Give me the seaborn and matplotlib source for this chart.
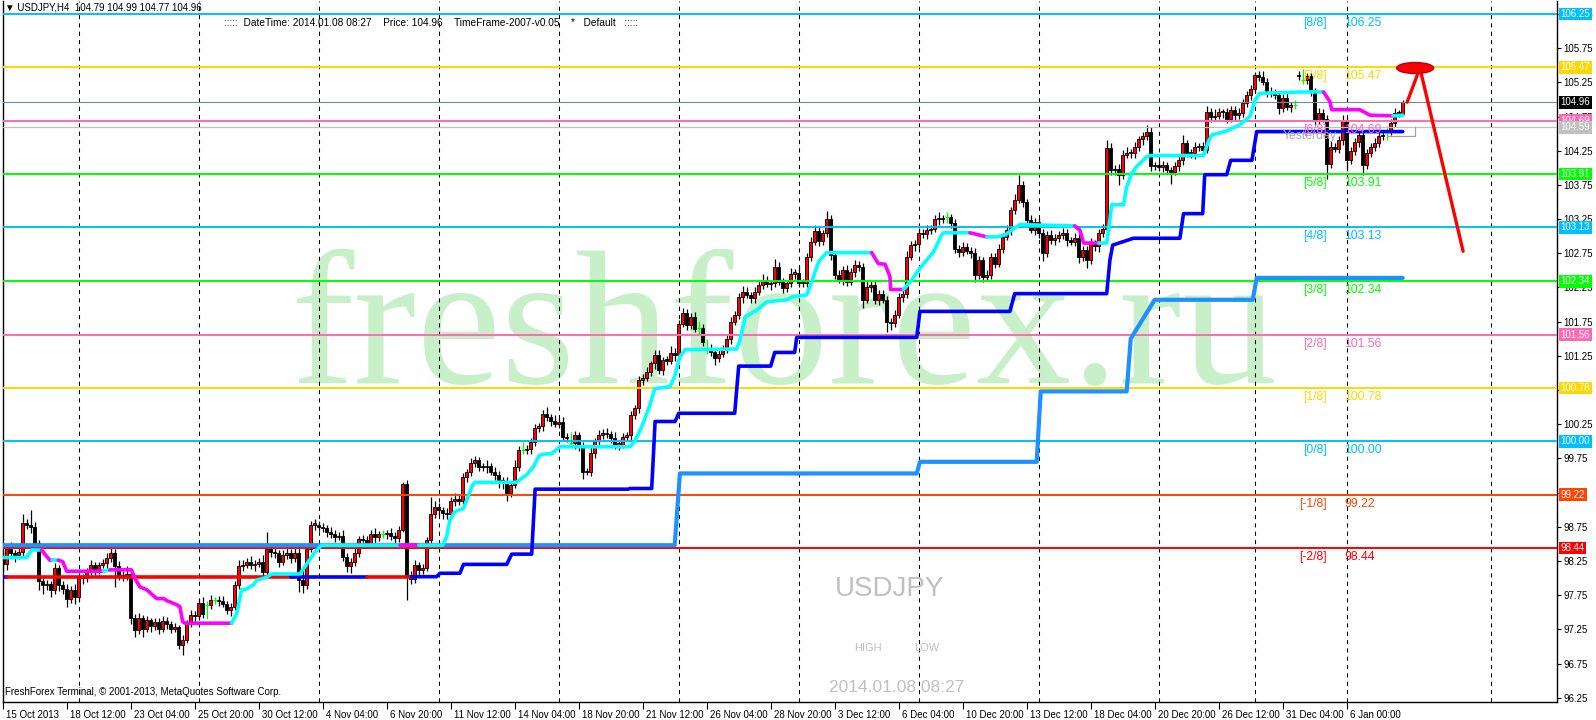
import matplotlib
matplotlib.use('Agg')
import matplotlib.pyplot as plt
import matplotlib.transforms as mtransforms
from matplotlib.patches import Ellipse
import numpy as np
import seaborn as sns

# USDJPY H4 candles, bar 0 = 15 Oct 2013 20:00 ... bar 350 = 8 Jan 2014 08:00
closes = [
    98.20, 98.43, 98.36, 98.33, 98.38, 98.80, 98.78, 98.74, 98.51, 97.95,
    97.90, 97.92, 97.83, 98.14, 97.90, 97.84, 97.70, 97.83, 97.72, 98.00,
    98.00, 98.09, 98.19, 98.12, 98.19, 98.22, 98.29, 98.36, 98.17, 98.05,
    98.02, 98.06, 97.41, 97.24, 97.41, 97.26, 97.38, 97.30, 97.36, 97.26,
    97.37, 97.33, 97.26, 97.29, 97.02, 97.10, 97.34, 97.46, 97.44, 97.63,
    97.48, 97.60, 97.68, 97.68, 97.66, 97.62, 97.53, 97.58, 97.90, 98.17,
    98.19, 98.24, 98.19, 98.21, 98.24, 98.09, 98.43, 98.38, 98.36, 98.24,
    98.34, 98.36, 98.29, 98.36, 97.97, 97.90, 98.43, 98.78, 98.78, 98.75,
    98.73, 98.68, 98.65, 98.60, 98.62, 98.31, 98.17, 98.24, 98.36, 98.57,
    98.55, 98.50, 98.65, 98.60, 98.65, 98.64, 98.66, 98.62, 98.58, 98.71,
    99.38, 98.04, 97.98, 98.19, 98.12, 98.15, 98.56, 98.94, 99.04, 98.99,
    98.95, 98.93, 99.12, 99.16, 99.13, 99.48, 99.55, 99.68, 99.72, 99.63,
    99.62, 99.64, 99.55, 99.50, 99.43, 99.40, 99.24, 99.36, 99.63, 99.87,
    99.87, 99.89, 99.99, 100.19, 100.22, 100.40, 100.36, 100.30, 100.26, 100.28,
    100.07, 100.05, 99.97, 100.09, 99.92, 99.55, 99.55, 99.83, 100.00, 100.09,
    100.12, 100.10, 100.05, 99.95, 99.95, 100.07, 100.09, 100.38, 100.48, 100.90,
    100.93, 101.02, 101.14, 101.26, 101.04, 101.19, 101.18, 101.29, 101.26, 101.72,
    101.87, 101.70, 101.82, 101.65, 101.66, 101.45, 101.35, 101.30, 101.22, 101.28,
    101.35, 101.50, 101.75, 101.85, 102.11, 102.19, 102.14, 102.09, 102.19, 102.29,
    102.36, 102.30, 102.31, 102.55, 102.33, 102.24, 102.31, 102.45, 102.46, 102.31,
    102.32, 102.70, 102.92, 103.07, 102.93, 103.04, 103.25, 102.72, 102.43, 102.36,
    102.50, 102.33, 102.48, 102.58, 102.55, 102.07, 102.26, 102.29, 102.07, 102.16,
    102.07, 101.75, 101.73, 101.85, 102.11, 102.16, 102.70, 102.87, 102.89, 103.05,
    103.03, 103.09, 103.11, 103.25, 103.26, 103.25, 103.28, 103.19, 102.82, 102.77,
    102.84, 102.79, 102.75, 102.43, 102.65, 102.41, 102.43, 102.70, 102.60, 102.81,
    102.99, 103.09, 103.38, 103.53, 103.75, 103.50, 103.24, 103.09, 103.21, 103.04,
    102.75, 103.02, 102.94, 102.97, 103.02, 103.04, 102.94, 102.92, 102.97, 102.70,
    102.80, 102.65, 102.90, 102.85, 103.04, 103.11, 104.29, 103.97, 103.99, 103.90,
    104.19, 104.21, 104.21, 104.30, 104.42, 104.46, 104.53, 104.02, 104.04, 104.01,
    104.04, 103.97, 103.94, 104.02, 104.11, 104.36, 104.21, 104.21, 104.30, 104.32,
    104.26, 104.82, 104.74, 104.76, 104.81, 104.81, 104.72, 104.85, 104.77, 104.80,
    104.95, 105.06, 105.16, 105.36, 105.33, 105.26, 105.11, 105.09, 105.06, 104.87,
    105.02, 104.89, 104.92, 104.92, 105.36, 105.28, 105.34, 105.11, 104.70, 104.80,
    104.72, 104.06, 104.31, 104.28, 104.41, 104.68, 104.11, 104.24, 104.38, 104.48,
    104.04, 104.21, 104.31, 104.36, 104.46, 104.48, 104.54, 104.65, 104.80, 104.79,
    104.96,
]
# wick lengths in pips above / below the body
wick_up = [
    8, 6, 10, 5, 7, 13, 6, 22, 8, 4,   6, 5, 4, 8, 5, 6, 7, 5, 9, 4,
    6, 5, 7, 4, 5, 6, 8, 12, 6, 8,     5, 12, 4, 6, 8, 5, 7, 4, 6, 5,
    8, 6, 4, 5, 3, 6, 5, 8, 6, 7,      9, 6, 7, 5, 6, 8, 4, 5, 6, 9,
    7, 6, 8, 5, 6, 9, 25, 6, 8, 5,     7, 9, 6, 8, 14, 20, 5, 6, 8, 5,
    6, 4, 7, 5, 6, 9, 5, 6, 8, 5,      6, 7, 5, 8, 4, 6, 5, 7, 6, 5,
    2, 5, 6, 8, 5, 6, 4, 25, 8, 6,     5, 7, 6, 9, 5, 6, 4, 8, 6, 5,
    6, 8, 5, 7, 6, 5, 8, 6, 9, 6,      12, 5, 6, 7, 5, 6, 10, 4, 8, 6,
    7, 5, 9, 6, 5, 7, 6, 10, 5, 8,     6, 7, 5, 8, 6, 5, 4, 7, 5, 6,
    5, 6, 4, 7, 8, 5, 6, 10, 7, 5,     8, 6, 5, 7, 10, 6, 5, 7, 6, 5,
    6, 5, 7, 5, 6, 8, 6, 5, 7, 6,      8, 6, 5, 12, 7, 6, 5, 8, 6, 10,
    6, 5, 7, 10, 6, 5, 12, 6, 5, 7,    6, 8, 5, 7, 5, 6, 8, 5, 7, 6,
    5, 6, 5, 7, 6, 5, 8, 6, 5, 7,      6, 8, 5, 6, 10, 5, 8, 5, 6, 5,
    7, 6, 5, 8, 6, 5, 7, 6, 5, 8,      6, 7, 5, 8, 15, 6, 5, 7, 6, 5,
    6, 5, 7, 6, 5, 8, 6, 5, 7, 6,      5, 6, 8, 5, 6, 7, 12, 8, 5, 6,
    7, 10, 6, 8, 5, 6, 10, 6, 5, 7,    6, 5, 4, 7, 6, 12, 5, 6, 8, 5,
    6, 8, 5, 10, 6, 5, 7, 6, 5, 8,     6, 7, 5, 4, 6, 8, 5, 7, 6, 5,
    6, 8, 5, 7, 6, 8, 5, 4, 6, 7,      6, 5, 8, 6, 5, 10, 6, 7, 5, 8,
    6, 7, 5, 8, 6, 5, 7, 6, 8, 5,      3,
]
wick_dn = [
    10, 8, 6, 9, 5, 7, 6, 8, 5, 12,    14, 8, 10, 6, 9, 7, 12, 6, 10, 5,
    8, 6, 5, 7, 6, 5, 8, 6, 30, 8,     6, 5, 8, 10, 6, 12, 5, 9, 6, 8,
    5, 7, 6, 5, 6, 14, 5, 6, 8, 5,     6, 8, 5, 6, 7, 5, 6, 8, 5, 6,
    7, 5, 6, 8, 5, 6, 5, 7, 6, 8,      5, 6, 7, 5, 17, 12, 6, 5, 7, 6,
    5, 8, 6, 7, 5, 6, 8, 10, 6, 5,     7, 6, 5, 8, 6, 5, 7, 6, 8, 5,
    4, 36, 6, 5, 7, 6, 5, 8, 6, 7,     9, 6, 5, 7, 6, 5, 8, 6, 5, 7,
    6, 8, 5, 6, 12, 10, 12, 6, 5, 7,   6, 5, 8, 6, 5, 7, 6, 8, 5, 6,
    7, 6, 5, 8, 6, 10, 5, 6, 8, 5,     6, 5, 7, 6, 8, 5, 6, 7, 5, 6,
    7, 5, 6, 8, 5, 7, 6, 5, 8, 6,      5, 7, 6, 5, 8, 6, 7, 5, 10, 6,
    5, 6, 7, 5, 6, 8, 5, 6, 7, 5,      6, 5, 8, 6, 5, 7, 6, 5, 8, 6,
    5, 7, 6, 5, 8, 6, 5, 7, 6, 5,      7, 6, 5, 8, 6, 12, 5, 7, 6, 8,
    5, 15, 10, 6, 5, 7, 6, 5, 8, 6,    5, 7, 6, 5, 8, 6, 5, 7, 6, 8,
    6, 5, 7, 10, 6, 8, 5, 6, 7, 5,     6, 5, 7, 6, 5, 8, 6, 5, 7, 6,
    12, 5, 6, 7, 5, 6, 8, 5, 6, 9,     6, 12, 5, 6, 8, 5, 6, 7, 8, 15,
    6, 5, 7, 6, 5, 8, 6, 7, 5, 6,      7, 6, 18, 5, 6, 7, 5, 6, 8, 5,
    6, 5, 7, 6, 5, 8, 6, 5, 7, 6,      5, 6, 7, 5, 6, 5, 7, 6, 5, 8,
    6, 5, 7, 6, 5, 6, 5, 6, 7, 6,      5, 22, 6, 5, 7, 8, 15, 6, 5, 7,
    14, 6, 5, 7, 6, 5, 8, 6, 5, 4,     2,
]
first_open = 98.30
gap_opens = {324: 105.34}
doji_bars = [51, 53, 95, 130, 142, 174, 176, 236, 323, 325, 346]

date_labels = ['15 Oct 2013', '18 Oct 12:00', '23 Oct 04:00', '25 Oct 20:00', '30 Oct 12:00',
               '4 Nov 04:00', '6 Nov 20:00', '11 Nov 12:00', '14 Nov 04:00', '18 Nov 20:00',
               '21 Nov 12:00', '26 Nov 04:00', '28 Nov 20:00', '3 Dec 12:00', '6 Dec 04:00',
               '10 Dec 20:00', '13 Dec 12:00', '18 Dec 04:00', '20 Dec 20:00', '26 Dec 12:00',
               '31 Dec 04:00', '6 Jan 00:00']
label_step = 16
week_bars = [19, 49, 79, 109, 139, 169, 199, 229, 259, 289, 313, 336, 372]

# Murrey math levels
murrey_levels = [106.25, 105.47, 104.69, 103.91, 103.13, 102.34, 101.56, 100.78, 100.00, 99.22, 98.44]
murrey_names = ['[8/8]', '[7/8]', '[6/8]', '[5/8]', '[4/8]', '[3/8]', '[2/8]', '[1/8]', '[0/8]', '[-1/8]', '[-2/8]']
murrey_colors = ['#00bfff', '#ffd700', '#ff69b4', '#00ff00', '#00bfff', '#00ff00', '#ff69b4',
                 '#ffd700', '#00bfff', '#ff4500', '#ff0000']
price_now = 104.96
yest_level = 104.59
yest_box_bars = [346.0, 353.1]
yest_box_vals = [104.59, 104.465]

# fast trailing line (c = cyan, m = magenta for the segment that starts at the vertex)
trail_bars = [0, 6, 7.2, 9.7, 11.8, 12.2, 13.9, 15.0, 16.0, 25.2, 26.8, 32.2, 33.0, 34.3, 36.0, 37.7,
              38.5, 40.2, 41.0, 43.5, 44.3, 45.0, 45.6, 57.2, 58.5, 59.7, 61.0, 62.7, 63.5, 66.0,
              67.2, 74.3, 75.6, 77.2, 78.5, 79.7, 99.3, 104.0, 110.0, 111.0, 111.8, 113.0, 115.2,
              116.0, 117.3, 118.0, 128.5, 129.75, 131.0, 132.7, 134.0, 134.75, 137.25, 139.3, 156.8,
              158.0, 159.75, 161.8, 163.0, 166.8, 168.0, 169.3, 170.6, 183.5, 184.3, 185.6, 188.5,
              191.0, 196.0, 197.7, 201.0, 202.7, 204.0, 206.0, 217.25, 218.9, 220.6, 221.8, 222.0,
              225.2, 227.25, 229.3, 232.7, 234.75, 235.2, 241.8, 244.0, 246.0, 248.5, 250.6, 251.8,
              254.3, 268.0, 269.3, 270.2, 274.0, 276.0, 276.8, 277.25, 280.2, 281.0, 282.25, 283.5,
              286.0, 286.8, 300.2, 301.4, 302.25, 306.0, 309.3, 311.8, 313.1, 314.3, 325.2, 330.2,
              331.8, 332.25, 339.3, 341.8, 347.6, 350.0]
trail_vals = [98.30, 98.30, 98.41, 98.41, 98.26, 98.26, 98.26, 98.24, 98.10, 98.10, 98.12, 98.12,
              98.00, 97.87, 97.83, 97.74, 97.70, 97.70, 97.67, 97.61, 97.58, 97.36, 97.34, 97.34,
              97.48, 97.83, 97.84, 97.90, 97.97, 98.01, 98.06, 98.06, 98.17, 98.31, 98.41, 98.48,
              98.48, 98.48, 98.48, 98.61, 98.85, 98.97, 99.02, 99.14, 99.34, 99.40, 99.40, 99.46,
              99.51, 99.63, 99.78, 99.81, 99.82, 99.92, 99.92, 100.00, 100.21, 100.53, 100.77,
              100.80, 100.95, 101.24, 101.34, 101.35, 101.48, 101.82, 101.92, 102.04, 102.07,
              102.12, 102.14, 102.41, 102.63, 102.76, 102.76, 102.60, 102.59, 102.41, 102.22,
              102.22, 102.36, 102.53, 102.77, 103.02, 103.05, 103.05, 103.02, 102.99, 102.99,
              103.02, 103.07, 103.17, 103.15, 103.09, 102.90, 102.90, 102.90, 103.24, 103.46,
              103.46, 103.72, 103.92, 104.02, 104.16, 104.18, 104.18, 104.38, 104.48, 104.54,
              104.63, 104.75, 104.99, 105.09, 105.11, 105.11, 104.97, 104.85, 104.85, 104.77,
              104.76, 104.77]
trail_cols = list('cccmmcmmmcmmmmmmmmmmmmmcccccccccccccmccccccccccccccccccccccccccccccccccccc'
                  'mmmmmccccccmmcccccmmmcccccccccccccccccccmmmmmcc')

# slower support line (r = red, b = blue)
support_bars = [0, 1, 72, 91, 102.2, 108.5, 109.3, 114.3, 115.2, 126, 127.25, 132.25, 133.1, 156.4,
                156.8, 162.25, 163.1, 168.1, 169, 183, 184, 192, 193, 198, 198.5, 228.5, 229.3,
                251.8, 253, 276, 276.8, 277.5, 282.7, 294.3, 295.2, 300, 300.5, 306, 307, 312.3,
                313.5, 350]
support_vals = [98.02, 98.02, 98.02, 98.02, 98.02, 98.02, 98.07, 98.07, 98.20, 98.20, 98.35, 98.35,
                99.30, 99.30, 99.31, 99.31, 100.29, 100.29, 100.41, 100.41, 101.10, 101.10, 101.30,
                101.30, 101.52, 101.52, 101.90, 101.90, 102.16, 102.16, 102.65, 102.87, 102.97,
                102.97, 103.33, 103.33, 103.90, 103.90, 104.11, 104.11, 104.53, 104.53]
support_cols = ['b', 'r', 'b', 'r'] + ['b'] * (len(support_bars) - 4)

# slowest step line
slow_bars = [0, 168, 169.3, 228.5, 229.3, 258.5, 259.5, 281, 282, 288, 312.5, 313.5, 350]
slow_vals = [98.48, 98.48, 99.53, 99.53, 99.70, 99.70, 100.73, 100.73, 101.50, 102.07, 102.07,
             102.39, 102.39]

# hand-drawn arrow and ellipse (bar, price)
arrow_bars = [351.1, 354.3, 365.1]
arrow_vals = [104.96, 105.46, 102.78]
ellipse_at = (353.1, 105.46)

# ------------------------------------------------------------------
sns.set_theme(style='white')
plt.rcParams['font.family'] = ['Liberation Sans', 'DejaVu Sans']

W, H = 1596, 720
X0, X1, Y0, Y1 = 2.7, 1556.7, 1.0, 702.0
PXB, PXP, TOP_PX, TOP_P = 4.0, 68.37, 14.0, 106.25

def bar_at(px):
    return (px - X0) / PXB

def price_at(py):
    return TOP_P - (py - TOP_PX) / PXP

fig = plt.figure(figsize=(W / 100, H / 100), dpi=100)
fig.patch.set_facecolor('white')
ax = fig.add_axes([X0 / W, 1 - Y1 / H, (X1 - X0) / W, (Y1 - Y0) / H])
ax.set_facecolor('white')
ax.set_xlim(0, bar_at(X1))
ax.set_ylim(price_at(Y1), price_at(Y0))

# watermark
ax.text(bar_at(784), price_at(383), 'freshforex.ru', family='Liberation Serif', fontsize=137,
        color='#c8f0c8', ha='center', va='baseline', zorder=0.5)

# weekly separators
for b in week_bars:
    ax.axvline(b, color='black', lw=0.75, ls=(0, (4, 4)), zorder=1)

# candles
n = len(closes)
assert len(wick_up) == n and len(wick_dn) == n, (n, len(wick_up), len(wick_dn))
opens = [first_open] + closes[:-1]
for b, v in gap_opens.items():
    opens[b] = v
x = np.arange(n)
o = np.array(opens)
c = np.array(closes)
hi = np.maximum(o, c) + np.array(wick_up) / 100
lo = np.minimum(o, c) - np.array(wick_dn) / 100
dj = np.isin(x, doji_bars)
ax.vlines(x[~dj], lo[~dj], hi[~dj], color='black', lw=0.9, zorder=3)
bull = (c >= o) & ~dj
bear = (c < o) & ~dj
ax.bar(x[bull], np.maximum(c - o, 0.02)[bull], bottom=o[bull], width=0.65, color='#ff0000',
       edgecolor='black', linewidth=0.6, zorder=4)
ax.bar(x[bear], np.maximum(o - c, 0.02)[bear], bottom=c[bear], width=0.65, color='black',
       edgecolor='black', linewidth=0.6, zorder=4)
ax.vlines(x[dj], lo[dj], hi[dj], color='#00ff00', lw=0.9, zorder=4)
ax.hlines(c[dj], x[dj] - 0.45, x[dj] + 0.45, color='#00ff00', lw=0.9, zorder=4)

# horizontal levels
ax.axhline(yest_level, color='#c0c0c0', lw=0.9, zorder=4.6)
for lvl, col in zip(murrey_levels, murrey_colors):
    ax.axhline(lvl, color=col, lw=1.4, zorder=5)
ax.axhline(price_now, color='#778899', lw=0.8, zorder=5)
# yesterday range corner
ax.plot([yest_box_bars[0], yest_box_bars[1], yest_box_bars[1]],
        [yest_box_vals[1], yest_box_vals[1], yest_box_vals[0]], color='#a0a0a0', lw=0.9, zorder=4.7)


def draw_runs(bars, vals, cols, cmap, lw, z):
    start = 0
    for k in range(1, len(bars)):
        if k == len(bars) - 1 or cols[k] != cols[start]:
            sns.lineplot(x=bars[start:k + 1], y=vals[start:k + 1], color=cmap[cols[start]], lw=lw,
                         sort=False, estimator=None, legend=False, ax=ax, zorder=z)
            start = k


sns.lineplot(x=slow_bars, y=slow_vals, color='#1e90ff', lw=3.0, sort=False, estimator=None,
             legend=False, ax=ax, zorder=6)
draw_runs(support_bars, support_vals, support_cols, {'b': '#0000ff', 'r': '#ff0000'}, 2.6, 6.2)
draw_runs(trail_bars, trail_vals, trail_cols, {'c': '#00ffff', 'm': '#ff00ff'}, 2.6, 6.4)

# murrey labels
for lvl, name, col in zip(murrey_levels, murrey_names, murrey_colors):
    yl = lvl - 3 / PXP
    ax.text(bar_at(1327), yl, name, color=col, fontsize=8.8, ha='right', va='top', zorder=7)
    ax.text(bar_at(1344), yl, f'{lvl:.2f}', color=col, fontsize=8.8, ha='left', va='top', zorder=7)
ax.text(bar_at(1283), yest_level - 3 / PXP, 'Yesterday', color='#a9a9a9', fontsize=8.8,
        ha='left', va='top', zorder=6.5)

# arrow and ellipse
sns.lineplot(x=arrow_bars, y=arrow_vals, color='#ff0000', lw=2.4, sort=False, estimator=None,
             legend=False, ax=ax, zorder=8)
ax.add_patch(Ellipse(ellipse_at, 37 / PXB, 11 / PXP, facecolor='#ff0000', edgecolor='#c00000',
                     lw=1, zorder=8))

# axes styling
ax.spines['top'].set_visible(False)
for s in ['left', 'right', 'bottom']:
    ax.spines[s].set_color('black')
    ax.spines[s].set_linewidth(1.0)
ax.yaxis.tick_right()
yt = np.arange(96.25, 106.3, 0.5)
ax.set_yticks(yt)
ax.set_yticklabels([f'{v:.2f}' for v in yt])
ax.tick_params(axis='y', which='both', direction='out', length=3, width=0.8, pad=2,
               labelsize=7, colors='black', right=True, left=False)
ax.set_xticks([k * label_step for k in range(len(date_labels))])
ax.set_xticklabels(date_labels)
ax.tick_params(axis='x', direction='out', length=5, width=0.8, pad=1, labelsize=7,
               colors='black', bottom=True)
shift = mtransforms.ScaledTranslation(3 / 100, 0, fig.dpi_scale_trans)
for lab in ax.get_xticklabels():
    lab.set_ha('left')
    lab.set_transform(lab.get_transform() + shift)
ax.grid(False)

# price boxes on the right axis
box_vals = murrey_levels[:2] + [price_now] + murrey_levels[2:3] + [yest_level] + murrey_levels[3:]
box_cols = murrey_colors[:2] + ['black'] + murrey_colors[2:3] + ['#c0c0c0'] + murrey_colors[3:]
btr = mtransforms.blended_transform_factory(ax.transAxes, ax.transData) + \
    mtransforms.ScaledTranslation(4 / 100, 0, fig.dpi_scale_trans)
for v, col in zip(box_vals, box_cols):
    ax.text(1.0, v, f'{v:.2f}', transform=btr, color='white', fontsize=7, ha='left', va='center',
            bbox=dict(boxstyle='square,pad=0.15', fc=col, ec='none'), zorder=20, clip_on=False)

# header and info texts
fig.text(5 / W, 1 - 8 / H, '\u25bc USDJPY,H4  104.79 104.99 104.77 104.96', fontsize=7,
         va='center', ha='left', color='black')
fig.text(224 / W, 1 - 23 / H,
         ':::::  DateTime: 2014.01.08 08:27    Price: 104.96    TimeFrame-2007-v0.05    *   Default   :::::',
         fontsize=7.3, va='center', ha='left', color='black')
fig.text(5 / W, 1 - 692 / H, 'FreshForex Terminal, \u00a9 2001-2013, MetaQuotes Software Corp.',
         fontsize=7, va='center', ha='left', color='black')
fig.text(890 / W, 1 - 589 / H, 'USDJPY', fontsize=20, color='#c0c0c0', ha='center', va='center')
fig.text(868 / W, 1 - 648 / H, 'HIGH', fontsize=8, color='#c0c0c0', ha='center', va='center')
fig.text(927 / W, 1 - 648 / H, 'LOW', fontsize=8, color='#c0c0c0', ha='center', va='center')
fig.text(897 / W, 1 - 687 / H, '2014.01.08 08:27', fontsize=12.5, color='#c0c0c0',
         ha='center', va='center')

fig.savefig('out.png', dpi=100)
